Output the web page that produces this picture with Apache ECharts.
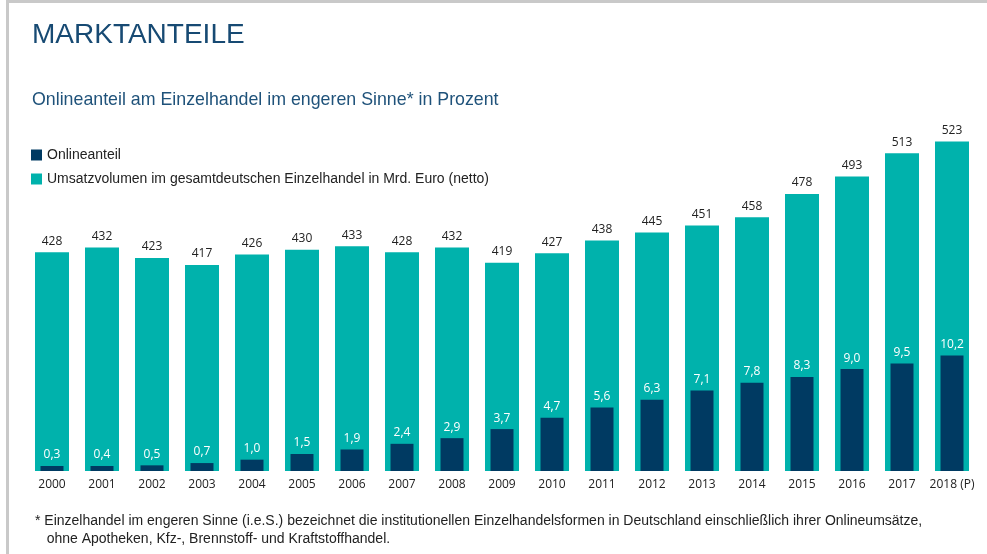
<!DOCTYPE html>
<html>
<head>
<meta charset="utf-8">
<script src="https://cdn.jsdelivr.net/npm/echarts@6/dist/echarts.min.js"></script>
<style>
  html, body { margin: 0; padding: 0; background: #fff; }
  #marktanteile { width: 987px; height: 554px; }
</style>
</head>
<body>
<div id="marktanteile"></div>
<script>
// Jahre, Umsatz (Mrd. Euro netto), Onlineanteil (%)
const jahre = ['2000', '2001', '2002', '2003', '2004', '2005', '2006', '2007', '2008', '2009',
  '2010', '2011', '2012', '2013', '2014', '2015', '2016', '2017', '2018 (P)'];
const umsatz = [428, 432, 423, 417, 426, 430, 433, 428, 432, 419, 427, 438, 445, 451, 458, 478, 493, 513, 523];
const onlineanteil = [0.3, 0.4, 0.5, 0.7, 1.0, 1.5, 1.9, 2.4, 2.9, 3.7, 4.7, 5.6, 6.3, 7.1, 7.8, 8.3, 9.0, 9.5, 10.2];
const legendNamen = ['Onlineanteil', 'Umsatzvolumen im gesamtdeutschen Einzelhandel in Mrd. Euro (netto)'];

const teal = '#00b2ac';
const navy = '#003a62';
const textFont = '"Liberation Sans", Arial, sans-serif';
const numFont = '"Open Sans", "Noto Sans", sans-serif';

let chartDom = document.getElementById('marktanteile');
let myChart = echarts.init(chartDom);
let option;

option = {
  animation: false,
  backgroundColor: '#fff',
  graphic: [
    // Rahmen oben und links
    { type: 'rect', shape: { x: 6, y: 0, width: 981, height: 3 }, style: { fill: '#c9c9c9' }, silent: true },
    { type: 'rect', shape: { x: 6, y: 0, width: 3, height: 554 }, style: { fill: '#c9c9c9' }, silent: true },
    {
      type: 'text', left: 32, top: 21,
      style: { text: 'MARKTANTEILE', fill: '#174a73', font: '28px ' + textFont }
    },
    {
      type: 'text', left: 32, top: 91,
      style: { text: 'Onlineanteil am Einzelhandel im engeren Sinne* in Prozent', fill: '#1f527a', font: '17.8px ' + textFont }
    },
    {
      type: 'text', left: 35, top: 512,
      style: {
        text: '* Einzelhandel im engeren Sinne (i.e.S.) bezeichnet die institutionellen Einzelhandelsformen in Deutschland einschließlich ihrer Onlineumsätze,\n   ohne Apotheken, Kfz-, Brennstoff- und Kraftstoffhandel.',
        fill: '#222', font: '14px ' + textFont, lineHeight: 18
      }
    }
  ],
  legend: {
    orient: 'vertical',
    left: 31,
    top: 148,
    padding: 0,
    itemWidth: 11,
    itemHeight: 11,
    itemGap: 10,
    icon: 'rect',
    data: legendNamen,
    textStyle: { color: '#222', fontSize: 14, fontFamily: textFont }
  },
  grid: { left: 27, right: 10, top: 52, bottom: 83 },
  xAxis: [
    {
      type: 'category',
      data: jahre,
      axisLine: { show: false },
      axisTick: { show: false },
      axisLabel: { interval: 0, color: '#222', fontSize: 12, fontFamily: numFont, margin: 8 }
    },
    {
      type: 'category',
      data: jahre,
      show: false
    }
  ],
  yAxis: [
    { type: 'value', min: 240, max: 600, show: false, splitLine: { show: false } },
    { type: 'value', min: 0, max: 37, show: false, splitLine: { show: false } }
  ],
  series: [
    {
      name: legendNamen[1],
      type: 'bar',
      xAxisIndex: 0,
      yAxisIndex: 0,
      barWidth: 34,
      data: umsatz,
      itemStyle: { color: teal },
      label: {
        show: true,
        position: 'top',
        distance: 5,
        color: '#222',
        fontSize: 12,
        fontFamily: numFont
      },
      z: 2
    },
    {
      name: legendNamen[0],
      type: 'bar',
      xAxisIndex: 1,
      yAxisIndex: 1,
      barWidth: 23,
      barMinHeight: 5,
      data: onlineanteil,
      itemStyle: { color: navy },
      label: {
        show: true,
        position: 'top',
        distance: 5,
        color: '#fff',
        fontSize: 12,
        fontFamily: numFont,
        formatter: function (p) {
          return p.value.toFixed(1).replace('.', ',');
        }
      },
      z: 3
    }
  ]
};
myChart.setOption(option, true);
</script>
</body>
</html>
